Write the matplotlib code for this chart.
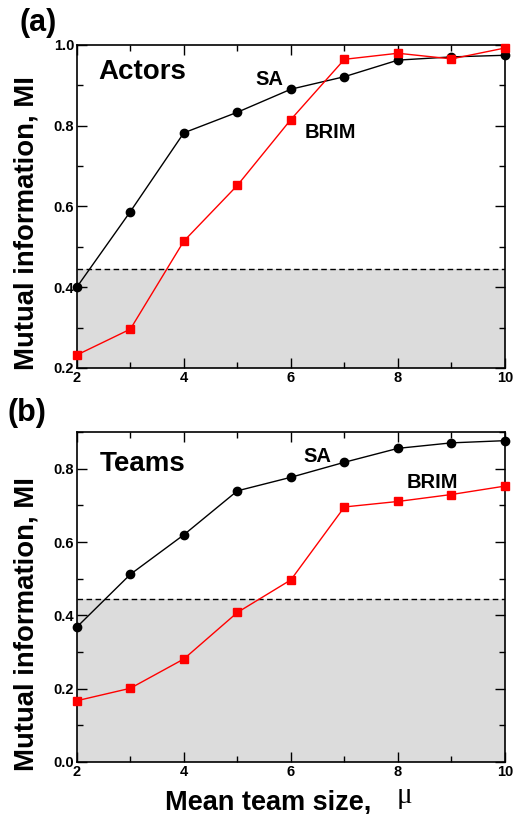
import numpy as np
import matplotlib
matplotlib.use("Agg")
import matplotlib.pyplot as plt
from matplotlib.ticker import MultipleLocator

plt.rcParams['font.family'] = ['Liberation Sans', 'DejaVu Sans']
plt.rcParams['font.weight'] = 'bold'

mu = [2, 3, 4, 5, 6, 7, 8, 9, 10]

# (a) actors
actors_sa = [0.400, 0.587, 0.782, 0.833, 0.890, 0.921, 0.962, 0.970, 0.974]
actors_brim = [0.232, 0.296, 0.514, 0.652, 0.815, 0.964, 0.979, 0.965, 0.992]

# (b) teams
teams_sa = [0.368, 0.512, 0.620, 0.740, 0.777, 0.818, 0.856, 0.871, 0.877]
teams_brim = [0.167, 0.201, 0.281, 0.408, 0.497, 0.696, 0.711, 0.730, 0.753]

threshold = 0.445

fig = plt.figure(figsize=(5.19, 8.14), dpi=100)
ax1 = fig.add_axes([0.148, 0.548, 0.825, 0.397])
ax2 = fig.add_axes([0.148, 0.064, 0.825, 0.405])

def draw(ax, sa, brim, ylim, name, sa_pos, brim_pos, label_y):
    ax.axhspan(ylim[0], threshold, color='#dcdcdc', zorder=0, lw=0)
    ax.axhline(threshold, color='black', ls=(0, (4, 2.5)), lw=1.0, zorder=1)
    ax.plot(mu, sa, '-o', color='black', lw=1.0, ms=6, zorder=3, clip_on=False)
    ax.plot(mu, brim, '-s', color='red', mfc='red', mec='red', lw=1.0, ms=5.5,
            zorder=3, clip_on=False)
    ax.set_xlim(2, 10)
    ax.set_ylim(*ylim)
    ax.xaxis.set_major_locator(MultipleLocator(2))
    ax.xaxis.set_minor_locator(MultipleLocator(1))
    ax.yaxis.set_major_locator(MultipleLocator(0.2))
    ax.yaxis.set_minor_locator(MultipleLocator(0.1))
    ax.yaxis.set_major_formatter(plt.FuncFormatter(lambda v, p: f'{v:.1f}'))
    ax.tick_params(which='both', direction='in', top=True, right=True,
                   labelsize=10.5, pad=2)
    ax.tick_params(which='major', length=7, width=1)
    ax.tick_params(which='minor', length=4, width=1)
    for s in ax.spines.values():
        s.set_linewidth(1.2)
    for lab in ax.get_xticklabels() + ax.get_yticklabels():
        lab.set_fontweight('bold')
    ax.set_ylabel('Mutual information, MI', fontsize=19.8, fontweight='bold')
    ax.yaxis.set_label_coords(-0.088, label_y)
    ax.text(3.23, sa_pos[2], name, fontsize=20, fontweight='bold', ha='center', va='center')
    ax.text(sa_pos[0], sa_pos[1], 'SA', fontsize=14.5, fontweight='bold', ha='center', va='center')
    ax.text(brim_pos[0], brim_pos[1], 'BRIM', fontsize=14.5, fontweight='bold', ha='center', va='center')

draw(ax1, actors_sa, actors_brim, (0.2, 1.0), 'Actors', (5.6, 0.915, 0.933), (6.73, 0.782), 0.447)
draw(ax2, teams_sa, teams_brim, (0.0, 0.9), 'Teams', (6.5, 0.834, 0.812), (8.65, 0.763), 0.418)

# x label with a plain mu after it
fig.text(0.318, 0.006, 'Mean team size,', fontsize=19.5, fontweight='bold',
         ha='left', va='baseline')
fig.text(0.78, 0.013, 'μ', fontsize=21, fontweight='normal', family='Liberation Serif',
         ha='center', va='baseline')

fig.text(0.073, 0.972, '(a)', fontsize=22, fontweight='bold', ha='center', va='center')
fig.text(0.052, 0.493, '(b)', fontsize=22, fontweight='bold', ha='center', va='center')

fig.savefig('out.png', dpi=100)
